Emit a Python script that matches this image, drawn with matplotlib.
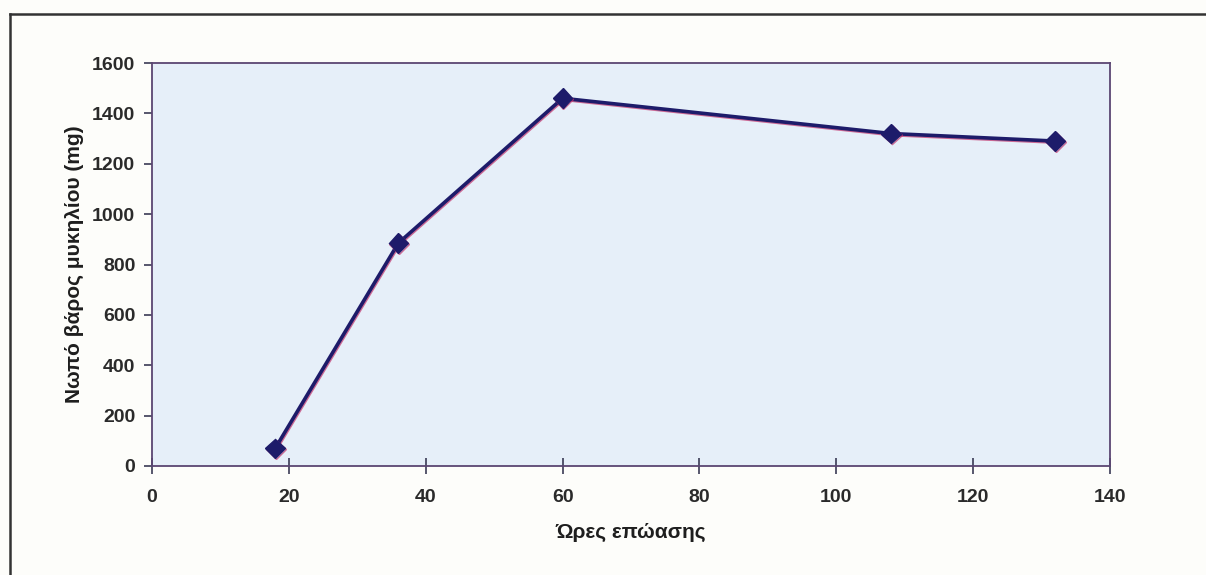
import matplotlib
matplotlib.use("Agg")
import matplotlib.pyplot as plt
from matplotlib.lines import Line2D
import matplotlib.patheffects as pe

# Incubation time (hours) and fresh mycelium weight (mg)
hours = [18, 36, 60, 108, 132]
weight_mg = [70, 885, 1460, 1320, 1290]

x_ticks = [0, 20, 40, 60, 80, 100, 120, 140]
y_ticks = [0, 200, 400, 600, 800, 1000, 1200, 1400, 1600]

x_label = "Ώρες επώασης"
y_label = "Νωπό βάρος μυκηλίου (mg)"

plt.rcParams["font.family"] = ["Liberation Sans", "DejaVu Sans"]

fig = plt.figure(figsize=(12.06, 5.75), dpi=100, facecolor="#fdfdfa")
ax = fig.add_axes([152 / 1206, 1 - 466 / 575, (1110 - 152) / 1206, (466 - 63) / 575])
ax.set_facecolor("#e6eff9")

line_color = "#1d1b6a"
ax.plot(hours, weight_mg, color=line_color, lw=2.6, marker="D", ms=10,
        markerfacecolor=line_color, markeredgecolor=line_color, zorder=3,
        path_effects=[pe.SimpleLineShadow(offset=(0.6, -0.8), shadow_color="#c0306a", alpha=0.7),
                      pe.Normal()])

ax.set_xlim(0, 140)
ax.set_ylim(0, 1600)
ax.set_xticks(x_ticks)
ax.set_yticks(y_ticks)
tick_font = dict(fontsize=14, fontweight="bold", color="#2a2a2a")
ax.set_xticklabels([str(v) for v in x_ticks], **tick_font)
ax.set_yticklabels([str(v) for v in y_ticks], **tick_font)

for side, spine in ax.spines.items():
    spine.set_color("#5b4672")
    spine.set_linewidth(1.3)

ax.tick_params(axis="y", direction="out", length=6, width=1.2, color="#3a3a55", pad=6)
ax.tick_params(axis="x", direction="inout", length=11, width=1.2, color="#3a3a55", pad=11)

ax.set_xlabel(x_label, fontsize=15, fontweight="bold", labelpad=12, color="#1e1e1e")
ax.set_ylabel(y_label, fontsize=15, fontweight="bold", labelpad=6, color="#1e1e1e")

# Outer frame (top and left edges)
fig.add_artist(Line2D([10 / 1206, 10 / 1206], [0, 1 - 14 / 575],
                      transform=fig.transFigure, color="#333333", lw=1.8))
fig.add_artist(Line2D([10 / 1206, 1.0], [1 - 14 / 575, 1 - 14 / 575],
                      transform=fig.transFigure, color="#333333", lw=1.8))

fig.savefig("out.png", dpi=100, facecolor=fig.get_facecolor())
